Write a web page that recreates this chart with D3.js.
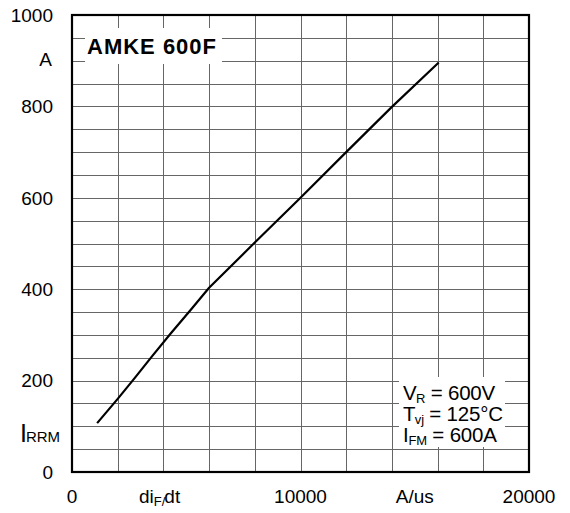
<!DOCTYPE html>
<html>
<head>
<meta charset="utf-8">
<script src="https://cdn.jsdelivr.net/npm/d3@7"></script>
<style>
  html, body { margin: 0; padding: 0; background: #fff; }
  svg { display: block; font-family: "Liberation Sans", Arial, Helvetica, sans-serif; }
</style>
</head>
<body>
<svg id="chart" width="570" height="513"></svg>
<script>
// ---- data ----
const diFdt = [1100, 2000, 2750, 3500, 4300, 5200, 6000, 8000, 10000, 12000, 14000, 16050];
const iRRM  = [107, 160, 206, 253, 302, 355, 403, 502, 600, 700, 799, 896];
const xTickValues = [0, 10000, 20000];
const xTickLabels = ["0", "10000", "20000"];
const yTickValues = [0, 200, 400, 600, 800, 1000];
const yTickLabels = ["0", "200", "400", "600", "800", "1000"];
const xGridValues = d3.range(2000, 20000, 2000);
const yGridValues = d3.range(50, 1000, 50);
const title = "AMKE 600F";

// ---- layout ----
const svg = d3.select("#chart");
const L = 72, R = 529, T = 15, B = 472;
const x = d3.scaleLinear().domain([0, 20000]).range([L, R]);
const y = d3.scaleLinear().domain([0, 1000]).range([B, T]);

// grid
const g = svg.append("g");
g.selectAll("line.vx").data(xGridValues).join("line")
  .attr("x1", d => Math.round(x(d)) + 0.5).attr("x2", d => Math.round(x(d)) + 0.5)
  .attr("y1", T).attr("y2", B)
  .attr("stroke", "#666").attr("stroke-width", 1);
g.selectAll("line.hy").data(yGridValues).join("line")
  .attr("y1", d => Math.round(y(d)) + 0.5).attr("y2", d => Math.round(y(d)) + 0.5)
  .attr("x1", L).attr("x2", R)
  .attr("stroke", "#666").attr("stroke-width", 1);

// white boxes covering the grid
svg.append("rect").attr("x", 85).attr("y", 28).attr("width", 137).attr("height", 36).attr("fill", "#fff");
svg.append("rect").attr("x", 399).attr("y", 377).attr("width", 106).attr("height", 70).attr("fill", "#fff");

// curve
const line = d3.line().x((d, i) => x(diFdt[i])).y(d => y(d)).curve(d3.curveLinear);
svg.append("path").datum(iRRM).attr("d", line)
  .attr("fill", "none").attr("stroke", "#000").attr("stroke-width", 2.2)
  .attr("stroke-linejoin", "round");

// frame
svg.append("rect").attr("x", L).attr("y", T).attr("width", R - L).attr("height", B - T)
  .attr("fill", "none").attr("stroke", "#000").attr("stroke-width", 2.2);

// y tick labels
svg.selectAll("text.yt").data(yTickValues).join("text")
  .attr("x", 53).attr("y", d => y(d) + 6.8)
  .attr("text-anchor", "end").attr("font-size", 19).attr("fill", "#000")
  .text((d, i) => yTickLabels[i]);
// unit "A"
svg.append("text").attr("x", 52).attr("y", y(900) + 5.5).attr("text-anchor", "end")
  .attr("font-size", 19).text("A");
// I_RRM
const irr = svg.append("text").attr("x", 20).attr("y", 442).attr("font-size", 25);
irr.append("tspan").text("I");
irr.append("tspan").attr("font-size", 15).attr("dx", -1).text("RRM");

// x tick labels
svg.selectAll("text.xt").data(xTickValues).join("text")
  .attr("x", d => x(d)).attr("y", 503)
  .attr("text-anchor", "middle").attr("font-size", 19).attr("fill", "#000")
  .text((d, i) => xTickLabels[i]);
// di_F/dt
const dl = svg.append("text").attr("x", 139).attr("y", 503).attr("font-size", 19);
dl.append("tspan").text("di");
dl.append("tspan").attr("font-size", 13).attr("dy", 3).text("F/");
dl.append("tspan").attr("dy", -3).attr("dx", -1).text("dt");
// A/us
svg.append("text").attr("x", x(15000)).attr("y", 503).attr("text-anchor", "middle")
  .attr("font-size", 19).text("A/us");

// title
svg.append("text").attr("x", 87).attr("y", 53.5).attr("font-size", 22).attr("font-weight", "bold")
  .attr("letter-spacing", 1).text(title);

// legend
const legend = [
  {main: "V", sub: "R", rest: " = 600V", y: 399.5},
  {main: "T", sub: "vj", rest: " = 125°C", y: 420.5},
  {main: "I", sub: "FM", rest: " = 600A", y: 441.5}
];
legend.forEach(d => {
  const t = svg.append("text").attr("x", 403).attr("y", d.y).attr("font-size", 20.5).attr("letter-spacing", -0.2);
  t.append("tspan").text(d.main);
  t.append("tspan").attr("font-size", 13).attr("dy", 3.5).attr("dx", d.main === "I" ? 0 : -0.5).text(d.sub);
  t.append("tspan").attr("dy", -3.5).text(d.rest);
});
</script>
</body>
</html>
